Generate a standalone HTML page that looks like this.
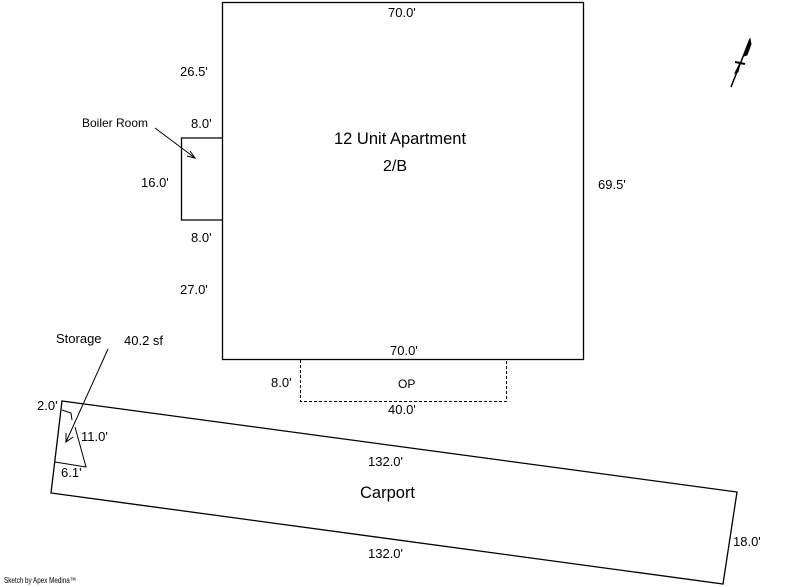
<!DOCTYPE html>
<html><head><style>
html,body{margin:0;padding:0;background:#fff;}
svg{display:block;}
text{font-family:"Liberation Sans",sans-serif;fill:#000;}
</style></head><body>
<svg width="800" height="587" viewBox="0 0 800 587" xmlns="http://www.w3.org/2000/svg" font-size="13">
<g fill="none" stroke="#000" stroke-width="1.3">
<rect x="222.5" y="2.5" width="361" height="357"/>
<polyline points="222,138 181.5,138 181.5,220 222,220"/>
<polyline points="300.5,360 300.5,401.5 506.5,401.5 506.5,360" stroke-dasharray="3,2" stroke-width="1"/>
<polygon points="62,401 737,492 723,584 51,493"/>
<polyline points="62,410 71,413 72,420" stroke-width="1"/>
<polyline points="75,427 86,467 55,462" stroke-width="1"/>
<line x1="108" y1="349" x2="66" y2="442" stroke-width="1"/>
<polyline points="66,433 66,442 73,437" stroke-width="1"/>
<line x1="155" y1="128" x2="195" y2="158" stroke-width="1"/>
<polyline points="187,156 195,158 190,151" stroke-width="1"/>
</g>
<g stroke="#000" fill="#000">
<line x1="731" y1="87" x2="750" y2="39" stroke-width="1.5"/>
<polygon points="744,56 750,39 751,44 747,55" stroke-width="1"/>
<polygon points="735,73 740,63 738,72" stroke-width="1"/>
<line x1="735" y1="62" x2="745" y2="64" stroke-width="2"/>
</g>
<text x="388" y="17">70.0'</text>
<text x="180" y="76">26.5'</text>
<text x="82" y="127" style="font-size:12px">Boiler Room</text>
<text x="191" y="128">8.0'</text>
<text x="141" y="187">16.0'</text>
<text x="191" y="242">8.0'</text>
<text x="180" y="294">27.0'</text>
<text x="334" y="144" style="font-size:16.5px">12 Unit Apartment</text>
<text x="383" y="171" style="font-size:16px">2/B</text>
<text x="598" y="189">69.5'</text>
<text x="390" y="355">70.0'</text>
<text x="271" y="387">8.0'</text>
<text x="398" y="388" style="font-size:12px">OP</text>
<text x="388" y="414">40.0'</text>
<text x="56" y="343">Storage</text>
<text x="124" y="345">40.2 sf</text>
<text x="37" y="410">2.0'</text>
<text x="81" y="441">11.0'</text>
<text x="61" y="477">6.1'</text>
<text x="368" y="466">132.0'</text>
<text x="360" y="498" style="font-size:16.5px">Carport</text>
<text x="368" y="558">132.0'</text>
<text x="733" y="546">18.0'</text>
<text x="4" y="583" style="font-size:8px" textLength="72" lengthAdjust="spacingAndGlyphs">Sketch by Apex Medina™</text>
</svg>
</body></html>
